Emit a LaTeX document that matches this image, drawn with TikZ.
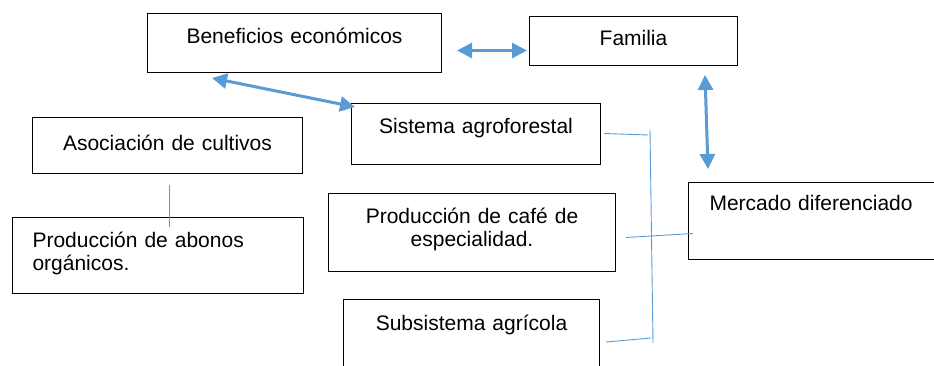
\documentclass[tikz,border=0pt]{standalone}
\usepackage{fontspec}
\setmainfont{Liberation Sans}
\usetikzlibrary{arrows.meta}
\definecolor{linkblue}{HTML}{5B9BD5}

\begin{document}
\begin{tikzpicture}[x=1pt,y=-1pt,
	box/.style={draw, line width=1pt, anchor=north west, inner sep=0pt, align=center, font=\fontsize{21}{22.5}\selectfont},
	leftbox/.style={box, align=left, inner xsep=20pt},
	link/.style={<->, >={Triangle[width=15pt,length=15pt]}, line width=3pt, color=linkblue},
	tie/.style={line width=0.9pt, color=linkblue}]
	\useasboundingbox (0,0) rectangle (934,366);
	\clip (0,0) rectangle (934,366);

	% boxes
	\node[box, text width=294pt, text height=30pt, text depth=29pt] (benef) at (147,13) {Beneficios económicos};
	\node[box, text width=208pt, text height=29pt, text depth=20pt] (familia) at (529,16) {Familia};
	\node[box, text width=249pt, text height=30pt, text depth=31pt] (sistema) at (351,103) {Sistema agroforestal};
	\node[box, text width=270pt, text height=33pt, text depth=23pt] (asoc) at (32,117) {Asociación de cultivos};
	\node[leftbox, text width=251pt, text height=30pt, text depth=46pt] (abonos) at (12,217) {Producción de abonos\\orgánicos.};
	\node[box, text width=287pt, text height=30pt, text depth=48pt] (cafe) at (328,193) {Producción de café de\\especialidad.};
	\node[leftbox, inner xsep=21pt, text width=206pt, text height=28pt, text depth=49pt] (mercado) at (688,182) {Mercado diferenciado};
	\node[box, text width=256pt, text height=31pt, text depth=50pt] (subs) at (343,299) {Subsistema agrícola};

	% double arrows
	\draw[link] ([shift={(15,7.5)}]benef.east) -- ([shift={(-2,9.5)}]familia.west);
	\draw[link] ([shift={(65,5)}]benef.south west) -- ([shift={(4,4)}]sistema.north west);
	\draw[link] ([shift={(-33,9)}]familia.south east) -- ([shift={(20,-13)}]mercado.north west);

	% thin links
	\draw[tie] ([shift={(2,11)}]asoc.south) -- ([shift={(11.5,10)}]abonos.north);

	\coordinate (railtop) at (650,130);
	\coordinate (railbot) at (653,343);
	\draw[tie] (railtop) -- (railbot);
	\draw[tie] ([shift={(3,-0.5)}]sistema.east) -- ([shift={(-2,5)}]railtop);
	\draw[tie] ([shift={(10,5)}]cafe.east) -- ([shift={(5,12.5)}]mercado.west);
	\draw[tie] ([shift={(6,43)}]subs.north east) -- ([shift={(-2,-5)}]railbot);
\end{tikzpicture}
\end{document}
